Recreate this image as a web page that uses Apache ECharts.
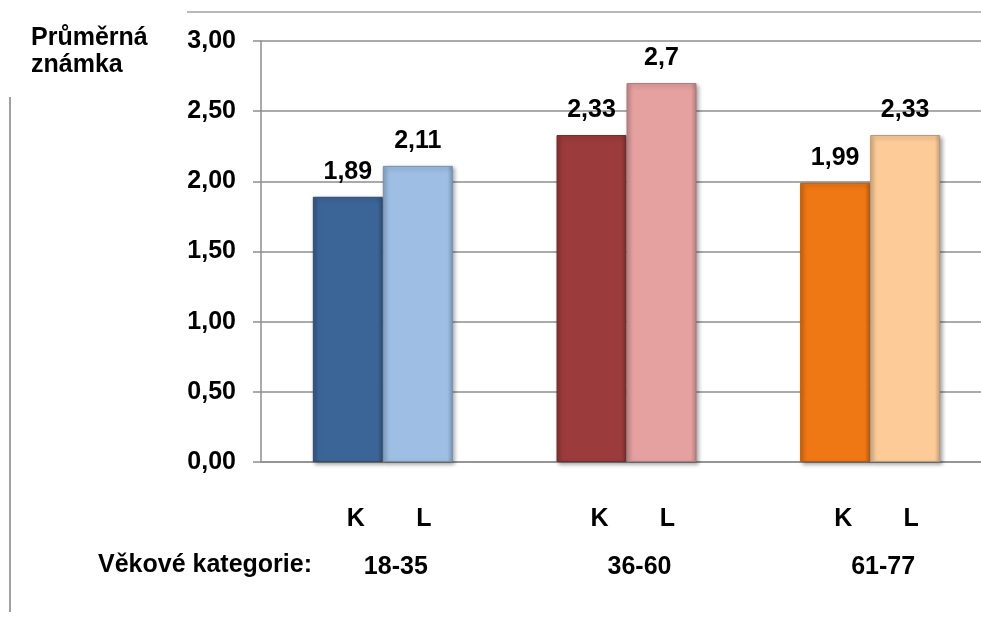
<!DOCTYPE html>
<html>
<head>
<meta charset="utf-8">
<script src="https://cdn.jsdelivr.net/npm/echarts@6/dist/echarts.min.js"></script>
<style>
  html, body { margin: 0; padding: 0; background: #ffffff; }
  #chart { width: 981px; height: 619px; }
</style>
</head>
<body>
<div id="chart"></div>
<script>
// Age groups and average grades for the two groups K and L
const ageGroups = ['18-35', '36-60', '61-77'];
const seriesNames = ['K', 'L'];
const valuesK = [1.89, 2.33, 1.99];
const valuesL = [2.11, 2.7, 2.33];

// Fill colours per age group (K darker, L lighter)
const coloursK = ['#3c6597', '#9c3b3b', '#ef7714'];
const coloursL = ['#9ebee4', '#e5a0a0', '#fccb98'];

const FONT = '"Liberation Sans", Arial, sans-serif';
const FS = 25;
const GRID_GRAY = '#8e8e8e';

function shade(hex, f) {
  const n = parseInt(hex.slice(1), 16);
  let r = (n >> 16) & 255, g = (n >> 8) & 255, b = n & 255;
  r = Math.round(r * f); g = Math.round(g * f); b = Math.round(b * f);
  return 'rgb(' + r + ',' + g + ',' + b + ')';
}

function bevelStyle(base) {
  return {
    color: {
      type: 'linear', x: 0, y: 0, x2: 1, y2: 0,
      colorStops: [
        { offset: 0, color: shade(base, 0.85) },
        { offset: 0.08, color: base },
        { offset: 0.92, color: base },
        { offset: 1, color: shade(base, 0.8) }
      ]
    },
    borderColor: shade(base, 0.75),
    borderWidth: 1,
    shadowColor: 'rgba(0,0,0,0.35)',
    shadowBlur: 4,
    shadowOffsetX: 2,
    shadowOffsetY: 2
  };
}

function toItems(values, colours) {
  return values.map((v, i) => ({ value: v, itemStyle: bevelStyle(colours[i]) }));
}

const valueLabel = {
  show: true,
  position: 'top',
  distance: 12,
  fontFamily: FONT,
  fontWeight: 'bold',
  fontSize: FS,
  color: '#000',
  formatter: p => String(p.value).replace('.', ',')
};

const richToken = { fontFamily: FONT, fontWeight: 'bold', fontSize: FS, lineHeight: 48 };

const chart = echarts.init(document.getElementById('chart'), null, { renderer: 'canvas' });

chart.setOption({
  animation: false,
  backgroundColor: '#ffffff',
  grid: { left: 261, width: 731, top: 41, bottom: 157, containLabel: false, outerBoundsMode: 'none' },
  xAxis: {
    type: 'category',
    data: ageGroups,
    axisLine: { show: true, lineStyle: { color: GRID_GRAY, width: 1.5 } },
    axisTick: { show: false },
    axisLabel: {
      margin: 33,
      padding: [0, 0, 0, 14],
      fontFamily: FONT,
      fontWeight: 'bold',
      fontSize: FS,
      color: '#000',
      lineHeight: 48,
      formatter: v => '{k|' + seriesNames[0] + '}{l|' + seriesNames[1] + '}\n{c|' + v + '}',
      rich: {
        k: Object.assign({ width: 68, align: 'center' }, richToken),
        l: Object.assign({ width: 68, align: 'center' }, richToken),
        c: Object.assign({ width: 124, padding: [0, 0, 0, 12], align: 'center' }, richToken)
      }
    }
  },
  yAxis: {
    type: 'value',
    min: 0,
    max: 3,
    interval: 0.5,
    axisLine: { show: true, lineStyle: { color: GRID_GRAY, width: 1.5 } },
    axisTick: { show: true, length: 8, lineStyle: { color: GRID_GRAY, width: 1.5 } },
    splitLine: { show: true, lineStyle: { color: GRID_GRAY, width: 1.5 } },
    axisLabel: {
      margin: 25,
      fontFamily: FONT,
      fontWeight: 'bold',
      fontSize: FS,
      color: '#000',
      formatter: v => v.toFixed(2).replace('.', ',')
    }
  },
  series: [
    {
      name: seriesNames[0],
      type: 'bar',
      barWidth: 70,
      barGap: '0%',
      data: toItems(valuesK, coloursK),
      label: valueLabel
    },
    {
      name: seriesNames[1],
      type: 'bar',
      barWidth: 70,
      barGap: '0%',
      data: toItems(valuesL, coloursL),
      label: valueLabel
    }
  ],
  graphic: [
    // frame lines around the chart area
    { type: 'line', shape: { x1: 187, y1: 12, x2: 981, y2: 12 }, style: { stroke: '#a0a0a0', lineWidth: 1.5 } },
    { type: 'line', shape: { x1: 10, y1: 97, x2: 10, y2: 612 }, style: { stroke: '#a0a0a0', lineWidth: 2 } },
    // value axis title
    {
      type: 'text', left: 31, top: 25,
      style: { text: 'Průměrná\nznámka', fontFamily: FONT, fontWeight: 'bold', fontSize: FS, lineHeight: 27, fill: '#000' }
    },
    // category axis title
    {
      type: 'text', left: 98, top: 553,
      style: { text: 'Věkové kategorie:', fontFamily: FONT, fontWeight: 'bold', fontSize: FS, fill: '#000' }
    }
  ]
});
</script>
</body>
</html>
